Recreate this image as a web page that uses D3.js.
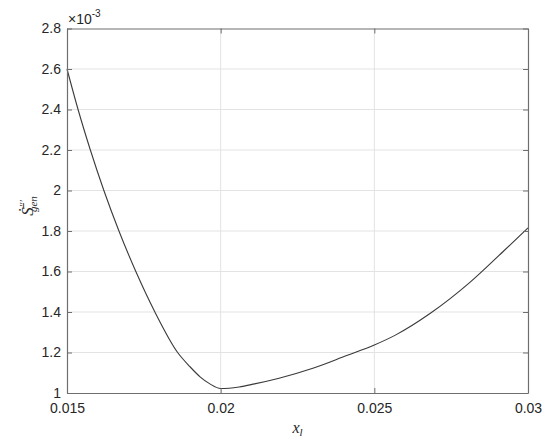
<!DOCTYPE html>
<html>
<head>
<meta charset="utf-8">
<script src="https://cdn.jsdelivr.net/npm/d3@7"></script>
<style>
  body { margin: 0; background: #fff; }
  svg { display: block; }
  .tick text { font-family: "Liberation Sans", Arial, sans-serif; font-size: 14px; fill: #262626; }
</style>
</head>
<body>
<div id="chart"></div>
<script>
// curve values (y in units of 1e-3)
const xVals = [0.015, 0.01536, 0.01576, 0.0162, 0.01669, 0.01724, 0.01786, 0.0186, 0.0190, 0.01933, 0.01965, 0.0200,
               0.0206, 0.0211, 0.0219, 0.0230, 0.0241, 0.0250, 0.0257, 0.0268, 0.0281, 0.0292, 0.0300];
const yVals = [2.6, 2.4, 2.2, 2.0, 1.8, 1.6, 1.4, 1.2, 1.13, 1.08, 1.045, 1.022,
               1.030, 1.045, 1.073, 1.122, 1.185, 1.237, 1.287, 1.391, 1.545, 1.70, 1.815];
const xTicks = [0.015, 0.02, 0.025, 0.03];
const xTickLabels = ["0.015", "0.02", "0.025", "0.03"];
const yTicks = [1, 1.2, 1.4, 1.6, 1.8, 2, 2.2, 2.4, 2.6, 2.8];
const yTickLabels = ["1", "1.2", "1.4", "1.6", "1.8", "2", "2.2", "2.4", "2.6", "2.8"];

const W = 550, H = 442;
const margin = {top: 28.5, right: 22, bottom: 49, left: 67};
const width = W - margin.left - margin.right,
      height = H - margin.top - margin.bottom;

const svg = d3.select('#chart').append('svg')
    .attr('width', W)
    .attr('height', H);
const g = svg.append('g')
    .attr('transform', `translate(${margin.left},${margin.top})`);

const x = d3.scaleLinear().domain([0.015, 0.03]).range([0, width]);
const y = d3.scaleLinear().domain([1, 2.8]).range([height, 0]);

// grid
g.append('g').selectAll('line')
    .data(xTicks.slice(1, -1))
    .enter().append('line')
    .attr('x1', d => x(d)).attr('x2', d => x(d))
    .attr('y1', 0).attr('y2', height)
    .attr('stroke', '#e3e3e3');
g.append('g').selectAll('line')
    .data(yTicks.slice(1, -1))
    .enter().append('line')
    .attr('x1', 0).attr('x2', width)
    .attr('y1', d => y(d)).attr('y2', d => y(d))
    .attr('stroke', '#e3e3e3');

// curve
const data = xVals.map((v, i) => ({x: v, y: yVals[i]}));
g.append('path')
    .datum(data)
    .attr('fill', 'none')
    .attr('stroke', '#3a3a3a')
    .attr('stroke-width', 1.1)
    .attr('d', d3.line().x(d => x(d.x)).y(d => y(d.y)).curve(d3.curveMonotoneX));

// axes, ticks pointing inwards
function styleAxis(sel) {
  sel.select('.domain').attr('stroke', '#6e6e6e').attr('stroke-width', 1.2);
  sel.selectAll('.tick line').attr('stroke', '#6e6e6e');
}
g.append('g')
    .attr('transform', `translate(0,${height})`)
    .call(d3.axisBottom(x).tickValues(xTicks).tickSizeInner(-5).tickSizeOuter(0).tickPadding(10)
      .tickFormat((d, i) => xTickLabels[i]))
    .call(styleAxis);
g.append('g')
    .call(d3.axisTop(x).tickValues(xTicks).tickSizeInner(-5).tickSizeOuter(0).tickFormat(''))
    .call(styleAxis);
g.append('g')
    .call(d3.axisLeft(y).tickValues(yTicks).tickSizeInner(-5).tickSizeOuter(0).tickPadding(6)
      .tickFormat((d, i) => yTickLabels[i]))
    .call(styleAxis);
g.append('g')
    .attr('transform', `translate(${width},0)`)
    .call(d3.axisRight(y).tickValues(yTicks).tickSizeInner(-5).tickSizeOuter(0).tickFormat(''))
    .call(styleAxis);

// exponent
const ex = svg.append('text')
    .attr('x', margin.left + 1)
    .attr('y', 24)
    .style('font-family', '"Liberation Sans", Arial, sans-serif')
    .style('font-size', '14px')
    .attr('fill', '#262626');
ex.append('tspan').text('\u00d710');
ex.append('tspan').attr('dy', -7).style('font-size', '10px').text('-3');

// axis labels
svg.append('text')
    .attr('x', margin.left + width / 2)
    .attr('y', 433)
    .attr('text-anchor', 'middle')
    .style('font-family', '"Liberation Serif", "Times New Roman", serif')
    .style('font-style', 'italic')
    .style('font-size', '16px')
    .attr('fill', '#262626')
    .call(t => {
      t.append('tspan').text('x');
      t.append('tspan').attr('dy', 3).style('font-size', '11px').text('l');
    });

svg.append('text')
    .attr('transform', 'translate(33,206) rotate(-90)')
    .attr('text-anchor', 'middle')
    .style('font-family', '"Liberation Serif", "Times New Roman", serif')
    .style('font-style', 'italic')
    .style('font-size', '17px')
    .attr('fill', '#262626')
    .call(t => {
      t.append('tspan').text('\u1E60\u0304');
      t.append('tspan').attr('dy', -6).style('font-size', '11px').text('\u2032\u2032\u2032');
      t.append('tspan').attr('dy', 10).attr('dx', -12).style('font-size', '11px').text('gen');
    });
</script>
</body>
</html>
